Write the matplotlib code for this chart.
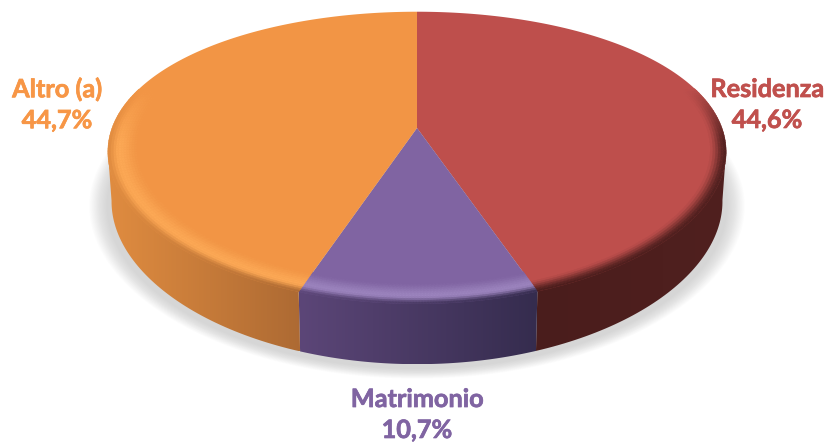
import numpy as np
import matplotlib
matplotlib.use('Agg')
import matplotlib.pyplot as plt
import matplotlib.patheffects as pe
from matplotlib.collections import PolyCollection
from matplotlib.colors import to_rgb
from matplotlib.patches import Polygon

# clockwise from 12 o'clock
labels = ['Residenza', 'Matrimonio', 'Altro (a)']
values = [44.6, 10.7, 44.7]
value_labels = ['44,6%', '10,7%', '44,7%']

face_colors = ['#BE4F4C', '#8064A2', '#F29545']
text_colors = ['#C0504D', '#8064A2', '#F79646']
# side wall colour, left end then right end on screen
side_colors = [('#4A1D1C', '#50201F'), ('#5C4678', '#352C4E'), ('#E08C40', '#AD6A33')]
rim_colors = [None, '#9C84BE', '#FCA855']
label_pos = [(767, 105), (417, 415), (57, 105)]

# perspective of the disc, in pixels
CX, CY = 417, 128
A, B, K = 305, 140, 0.204
DEPTH = 48
TAPER = 0.988
BEVEL = 0.90


def project(theta, r=1.0, drop=0.0):
	u = r * np.sin(theta)
	v = -r * np.cos(theta)
	s = 1 / (1 - K * v)
	return CX + A * u * s ** 0.8, CY + B * v * s + drop * s


def mix(c1, c2, t):
	return tuple((1 - t) * a + t * b for a, b in zip(c1, c2))


def smooth(t):
	return t * t * (3 - 2 * t)


fig = plt.figure(figsize=(8.26, 4.42), dpi=100)
ax = fig.add_axes([0, 0, 1, 1])
ax.axis('off')

# soft shadow under the disc
ring = np.linspace(0, 2 * np.pi, 300)
bx, by = project(ring, 1.0, DEPTH)
for i in range(16):
	grow = 1 + 0.06 * (1 - i / 16)
	pts = np.column_stack([CX + (bx - CX) * grow, 190 + (by - 190) * grow + 4])
	ax.add_patch(Polygon(pts, closed=True, fc='#909090', ec='none', alpha=0.025, zorder=1))

edges = np.radians(np.concatenate([[0], np.cumsum(values)]) / np.sum(values) * 360)

for i in range(len(values)):
	start, end = edges[i], edges[i + 1]
	base = to_rgb(face_colors[i])
	left, right = [to_rgb(c) for c in side_colors[i]]
	thetas = np.linspace(start, end, 160)

	# side wall: horizontal gradient clipped to the wall outline,
	# starts at the widest point of the disc so the silhouette stays closed
	front = thetas[-np.cos(thetas) > 0.15]
	tx, ty = project(front, 1.0)
	wx, wy = project(front, 1.0, DEPTH)
	wx = CX + (wx - CX) * TAPER
	wall = np.column_stack([np.r_[tx, wx[::-1]], np.r_[ty - 1, wy[::-1]]])
	lo, hi = wall[:, 0].min(), wall[:, 0].max()
	grad = np.array([mix(left, right, f) for f in np.linspace(0, 1, 256)])[None, :, :]
	im = ax.imshow(grad, extent=(lo, hi, wall[:, 1].max(), wall[:, 1].min()), aspect='auto',
		interpolation='bilinear', zorder=2)
	im.set_clip_path(Polygon(wall, closed=True, transform=ax.transData))

	# flat top
	fx, fy = project(thetas)
	pts = np.column_stack([np.r_[CX, fx], np.r_[CY, fy]])
	ax.add_patch(Polygon(pts, closed=True, fc=base, ec='none', zorder=3))

	# rounded rim, only towards the viewer
	polys, cols = [], []
	radii = np.linspace(BEVEL, 1.0, 13)
	for a, b in zip(thetas[:-1], thetas[1:]):
		m = 0.5 * (a + b)
		w = np.clip((-np.cos(m) + 0.3) / 0.4, 0, 1)
		if w == 0:
			continue
		side = mix(left, right, np.clip((project(m)[0] - lo) / (hi - lo), 0, 1))
		for r0, r1 in zip(radii[:-1], radii[1:]):
			t = (0.5 * (r0 + r1) - BEVEL) / (1 - BEVEL)
			if rim_colors[i] is None:
				c = mix(base, side, smooth(np.clip((t - 0.45) / 0.55, 0, 1)))
			else:
				rim = to_rgb(rim_colors[i])
				if t < 0.65:
					c = mix(base, rim, smooth(t / 0.65))
				else:
					c = mix(rim, side, smooth((t - 0.65) / 0.35))
			c = mix(base, c, w)
			polys.append([project(a, r0), project(b, r0), project(b, r1), project(a, r1)])
			cols.append(c)
	ax.add_collection(PolyCollection(polys, facecolors=cols, edgecolors='face', linewidths=0.3, zorder=4))

for name, val, col, (x, y) in zip(labels, value_labels, text_colors, label_pos):
	ax.text(x, y, name + '\n' + val, color=col, family='Lato', fontweight='bold', fontsize=18.2,
		ha='center', va='center', linespacing=1.42, zorder=6, clip_on=False,
		path_effects=[pe.withStroke(linewidth=0.5, foreground=col)])

ax.set_xlim(0, 826)
ax.set_ylim(442, 0)
fig.savefig('out.png', dpi=100)
